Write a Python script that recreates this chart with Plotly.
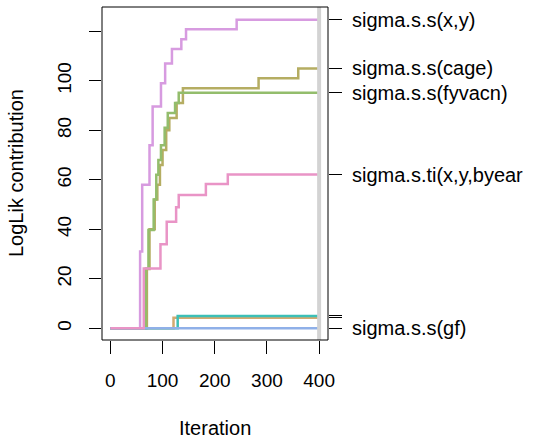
import plotly.graph_objects as go

# ---- data ----
labels = ["sigma.s.s(x,y)", "sigma.s.s(cage)", "sigma.s.s(fyvacn)",
          "sigma.s.ti(x,y,byear", "", "", "sigma.s.s(gf)"]

xy_iter = [0, 57, 61, 75, 81, 97, 105, 118, 136, 145, 242, 400]
xy_val = [0, 31, 58, 74, 89.6, 99, 107, 112.8, 116.8, 120.8, 124.6, 124.6]

cage_iter = [0, 70, 75, 85, 90, 95, 100, 107, 113, 127, 139, 284, 360, 400]
cage_val = [0, 24, 40, 52, 58, 66, 72, 80, 85, 91, 97, 101, 105, 105]

fyvacn_iter = [0, 68, 73, 83, 88, 92, 97, 104, 110, 124, 131, 400]
fyvacn_val = [0, 24.2, 39.7, 52, 62, 68, 74, 81, 87, 91, 95.2, 95.2]

ti_iter = [0, 64, 96, 108, 126, 131, 183, 225, 400]
ti_val = [0, 24.2, 34, 43.1, 48.9, 53.9, 58.3, 62.1, 62.1]

tan_iter = [0, 121, 400]
tan_val = [0, 4.3, 4.3]

teal_iter = [0, 129, 400]
teal_val = [0, 5.0, 5.0]

gf_iter = [0, 400]
gf_val = [0, 0]

x_ticks = [0, 100, 200, 300, 400]
y_ticks = [0, 20, 40, 60, 80, 100, 120]
y_ticktext = ["0", "20", "40", "60", "80", "100", ""]

x_title = "Iteration"
y_title = "LogLik contribution"

# ---- styles ----
series = [
    (xy_iter, xy_val, "#D79BE0"),
    (cage_iter, cage_val, "#B5AD62"),
    (fyvacn_iter, fyvacn_val, "#93BD6C"),
    (tan_iter, tan_val, "#D2AA70"),
    (teal_iter, teal_val, "#3CBFB6"),
    (gf_iter, gf_val, "#8FB0E8"),
    (ti_iter, ti_val, "#E994C6"),
]
final_vals = [xy_val[-1], cage_val[-1], fyvacn_val[-1], ti_val[-1],
              teal_val[-1], tan_val[-1], gf_val[-1]]

fam = "Liberation Sans, Arial, sans-serif"
font = dict(family=fam, size=19, color="black")
font_big = dict(family=fam, size=20, color="black")

fig = go.Figure()
for xs, ys, col in series:
    fig.add_trace(go.Scatter(x=xs, y=ys, mode="lines", line=dict(color=col, width=2.5, shape="hv"),
                             showlegend=False, hoverinfo="skip"))

# invisible trace on secondary axis
fig.add_trace(go.Scatter(x=[0], y=[0], yaxis="y2", mode="markers", marker=dict(opacity=0),
                         showlegend=False, hoverinfo="skip"))

yr = [-4.7, 129.8]
fig.update_layout(
    width=534, height=438,
    margin=dict(l=102, r=206, t=7, b=98, autoexpand=False),
    paper_bgcolor="white", plot_bgcolor="white",
    font=font,
    xaxis=dict(range=[-16, 417], tickvals=x_ticks, ticks="outside", ticklen=13,
               tickcolor="black", tickwidth=1, showgrid=False, zeroline=False,
               showline=False, ticklabelstandoff=10, tickfont=font, automargin=False),
    yaxis=dict(range=yr, tickvals=y_ticks, ticktext=y_ticktext, ticks="outside",
               ticklen=12, tickcolor="black", tickwidth=1, tickangle=-90,
               showgrid=False, zeroline=False, showline=False, ticklabelstandoff=10,
               tickfont=font, automargin=False),
    yaxis2=dict(range=yr, overlaying="y", side="right", tickvals=final_vals,
                ticktext=labels, ticks="outside", ticklen=13, tickcolor="black",
                tickwidth=1, showgrid=False, zeroline=False, showline=False,
                ticklabelstandoff=6, tickfont=font_big, automargin=False),
    annotations=[
        dict(text=x_title, xref="paper", yref="paper", x=0.5, y=-0.2643,
             xanchor="center", yanchor="middle", showarrow=False, font=font_big),
        dict(text=y_title, xref="paper", yref="paper", x=-0.3805, y=0.5015,
             xanchor="center", yanchor="middle", showarrow=False, font=font_big,
             textangle=-90),
    ],
    shapes=[
        dict(type="line", xref="x", yref="paper", x0=400, x1=400, y0=0, y1=1,
             line=dict(color="#D3D3D3", width=4), layer="above"),
        dict(type="rect", xref="paper", yref="paper", x0=0, x1=1, y0=0, y1=1,
             line=dict(color="black", width=1), layer="above"),
    ],
)

fig.write_html("out.html")
